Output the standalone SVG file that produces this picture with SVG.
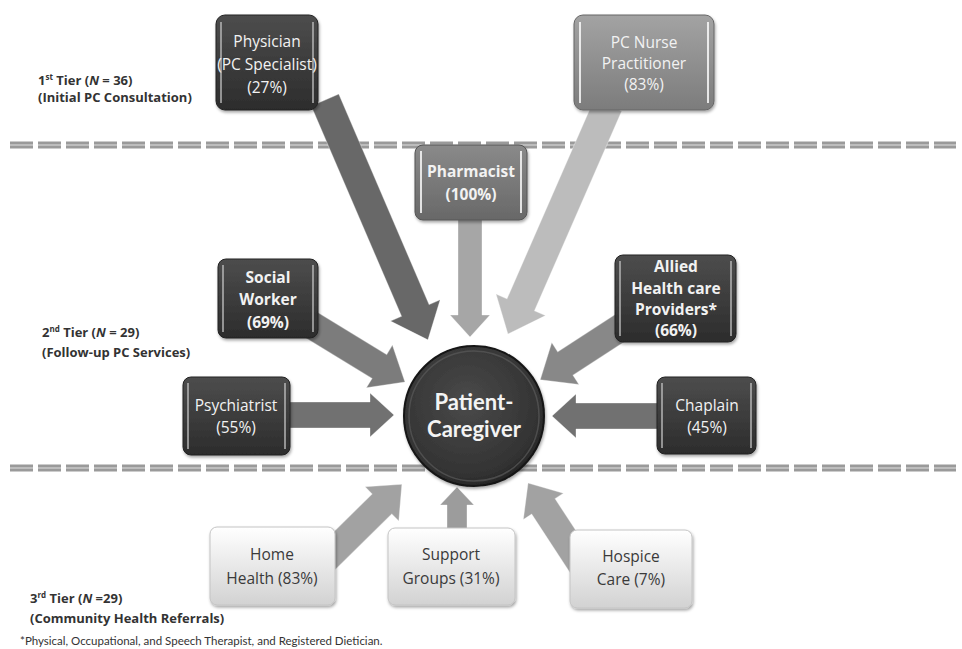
<svg xmlns="http://www.w3.org/2000/svg" width="962" height="649" viewBox="0 0 962 649">
<defs>
<linearGradient id="gDark" x1="0" y1="0" x2="0" y2="1"><stop offset="0" stop-color="#4d4d4d"/><stop offset="1" stop-color="#2c2c2c"/></linearGradient>
<linearGradient id="gNurse" x1="0" y1="0" x2="0" y2="1"><stop offset="0" stop-color="#a3a3a3"/><stop offset="1" stop-color="#7c7c7c"/></linearGradient>
<linearGradient id="gPharm" x1="0" y1="0" x2="0" y2="1"><stop offset="0" stop-color="#8a8a8a"/><stop offset="1" stop-color="#686868"/></linearGradient>
<linearGradient id="gLight" x1="0" y1="0" x2="0" y2="1"><stop offset="0" stop-color="#ffffff"/><stop offset="1" stop-color="#d2d2d2"/></linearGradient>
<radialGradient id="gCircle" cx="0.45" cy="0.4" r="0.65"><stop offset="0" stop-color="#4a4a4a"/><stop offset="0.8" stop-color="#333333"/><stop offset="1" stop-color="#1f1f1f"/></radialGradient>
<filter id="sh" x="-10%" y="-10%" width="125%" height="125%"><feDropShadow dx="1" dy="2" stdDeviation="1.5" flood-color="#000" flood-opacity="0.35"/></filter>
</defs>
<style>
.dash{fill:none;stroke:#9a9a9a;stroke-width:7;stroke-dasharray:23 5}
.dashc{fill:none;stroke:#c9c9c9;stroke-width:1.5;stroke-dasharray:23 5}
.box{stroke:#222;stroke-width:1;filter:url(#sh)}
.dk{fill:url(#gDark)}
.nu{fill:url(#gNurse);stroke:#666}
.ph{fill:url(#gPharm);stroke:#555}
.lt{fill:url(#gLight);stroke:#c4c4c4}
.hl{stroke:#bdbdbd;stroke-width:2;opacity:0.7}
.hll{stroke:#ffffff;stroke-width:2;opacity:0.8}
.t{font-family:"Open Sans",Lato,"Liberation Sans",sans-serif;font-size:15.5px;text-anchor:middle;fill:#f2f2f2}
.b{font-weight:bold}
.tl{fill:#3a3a3a}
.c{font-family:Lato,"Open Sans","Liberation Sans",sans-serif;font-size:22px;font-weight:bold;text-anchor:middle;fill:#f4f4f4}
.tier{font-family:"Open Sans",Lato,"Liberation Sans",sans-serif;font-size:13px;font-weight:bold;fill:#333}
.foot{font-family:Lato,"Open Sans","Liberation Sans",sans-serif;font-size:11.5px;fill:#333}
.arr{stroke:#ffffff;stroke-opacity:0.35;stroke-width:1}
</style>

<g id="tier-lines">
<line class="dash" x1="10" y1="145" x2="956" y2="145"/>
<line class="dashc" x1="10" y1="145" x2="956" y2="145"/>
<line class="dash" x1="10" y1="468" x2="956" y2="468"/>
<line class="dashc" x1="10" y1="468" x2="956" y2="468"/>
</g>

<g id="connectors">
<polygon class="arr" fill="#686868" transform="translate(325,100) rotate(66.77)" points="0,-15 229,-15 229,-27 261,0 229,27 229,15 0,15"/>
<polygon class="arr" fill="#a6a6a6" transform="translate(470,215) rotate(90)" points="0,-12 100,-12 100,-20 122,0 100,20 100,12 0,12"/>
<polygon class="arr" fill="#bcbcbc" transform="translate(608,105) rotate(113.6)" points="0,-15 218,-15 218,-27 250,0 218,27 218,15 0,15"/>
<polygon class="arr" fill="#7c7c7c" transform="translate(300,318) rotate(31.4)" points="0,-14 93,-14 93,-25 123,0 93,25 93,14 0,14"/>
<polygon class="arr" fill="#888888" transform="translate(640,315) rotate(147)" points="0,-14 89,-14 89,-25 119,0 89,25 89,14 0,14"/>
<polygon class="arr" fill="#717171" transform="translate(280,415)" points="0,-13 90,-13 90,-22 114,0 90,22 90,13 0,13"/>
<polygon class="arr" fill="#717171" transform="translate(665,416) rotate(180)" points="0,-13 89,-13 89,-22 113,0 89,22 89,13 0,13"/>
<polygon class="arr" fill="#a2a2a2" transform="translate(320,565) rotate(-44.6)" points="0,-14 87,-14 87,-24 115,0 87,24 87,14 0,14"/>
<polygon class="arr" fill="#9c9c9c" transform="translate(457,530) rotate(-90)" points="0,-10 25,-10 25,-17 43,0 25,17 25,10 0,10"/>
<polygon class="arr" fill="#a2a2a2" transform="translate(585,570) rotate(-123.2)" points="0,-14 76,-14 76,-24 104,0 76,24 76,14 0,14"/>
</g>

<g id="physician">
<rect class="box dk" x="216" y="15" width="102" height="95" rx="9"/>
<line class="hl" x1="221" y1="22" x2="221" y2="103"/><line class="hl" x1="313" y1="22" x2="313" y2="103"/>
<text class="t" x="267" y="47">Physician</text>
<text class="t" x="267" y="70">(PC Specialist)</text>
<text class="t" x="267" y="93">(27%)</text>
</g>

<g id="nurse">
<rect class="box nu" x="574" y="15" width="140" height="95" rx="9"/>
<line class="hll" x1="580" y1="22" x2="580" y2="103"/><line class="hll" x1="708" y1="22" x2="708" y2="103"/>
<text class="t" x="644" y="48">PC Nurse</text>
<text class="t" x="644" y="69">Practitioner</text>
<text class="t" x="644" y="90">(83%)</text>
</g>

<g id="pharmacist">
<rect class="box ph" x="415" y="145" width="112" height="75" rx="8"/>
<line class="hll" x1="421" y1="151" x2="421" y2="213"/><line class="hll" x1="521" y1="151" x2="521" y2="213"/>
<text class="t b" x="471" y="177">Pharmacist</text>
<text class="t b" x="471" y="200">(100%)</text>
</g>

<g id="social-worker">
<rect class="box dk" x="218" y="259" width="100" height="79" rx="8"/>
<line class="hl" x1="223" y1="265" x2="223" y2="332"/><line class="hl" x1="313" y1="265" x2="313" y2="332"/>
<text class="t b" x="268" y="283">Social</text>
<text class="t b" x="268" y="305">Worker</text>
<text class="t b" x="268" y="328">(69%)</text>
</g>

<g id="allied">
<rect class="box dk" x="615" y="255" width="121" height="87" rx="8"/>
<line class="hl" x1="620" y1="261" x2="620" y2="336"/><line class="hl" x1="731" y1="261" x2="731" y2="336"/>
<text class="t b" x="676" y="272">Allied</text>
<text class="t b" x="676" y="294">Health care</text>
<text class="t b" x="676" y="315">Providers*</text>
<text class="t b" x="676" y="336">(66%)</text>
</g>

<g id="psychiatrist">
<rect class="box dk" x="183" y="377" width="107" height="78" rx="8"/>
<line class="hl" x1="188" y1="383" x2="188" y2="449"/><line class="hl" x1="285" y1="383" x2="285" y2="449"/>
<text class="t" x="236" y="411">Psychiatrist</text>
<text class="t" x="236" y="433">(55%)</text>
</g>

<g id="chaplain">
<rect class="box dk" x="657" y="377" width="99" height="77" rx="8"/>
<line class="hl" x1="662" y1="383" x2="662" y2="448"/><line class="hl" x1="751" y1="383" x2="751" y2="448"/>
<text class="t" x="707" y="411">Chaplain</text>
<text class="t" x="707" y="433">(45%)</text>
</g>

<g id="home-health">
<rect class="box lt" x="210" y="527" width="125" height="78" rx="7"/>
<text class="t tl" x="272" y="560">Home</text>
<text class="t tl" x="272" y="584">Health (83%)</text>
</g>

<g id="support-groups">
<rect class="box lt" x="388" y="528" width="127" height="77" rx="7"/>
<text class="t tl" x="451" y="560">Support</text>
<text class="t tl" x="451" y="584">Groups (31%)</text>
</g>

<g id="hospice">
<rect class="box lt" x="570" y="530" width="122" height="78" rx="7"/>
<text class="t tl" x="631" y="562">Hospice</text>
<text class="t tl" x="631" y="585">Care (7%)</text>
</g>

<g id="patient-caregiver">
<circle cx="474" cy="416" r="70" fill="url(#gCircle)" stroke="#151515" stroke-width="2" filter="url(#sh)"/>
<circle cx="474" cy="416" r="65" fill="none" stroke="#5a5a5a" stroke-width="1.5" opacity="0.7"/>
<text class="c" x="474" y="410">Patient-</text>
<text class="c" x="474" y="437">Caregiver</text>
</g>

<g id="tier-labels">
<text class="tier" x="38" y="85">1<tspan font-size="8" dy="-5">st</tspan><tspan dy="5"> Tier (</tspan><tspan font-style="italic">N</tspan> = 36)</text>
<text class="tier" x="38" y="102">(Initial PC Consultation)</text>
<text class="tier" x="42" y="337">2<tspan font-size="8" dy="-5">nd</tspan><tspan dy="5">  Tier (</tspan><tspan font-style="italic">N</tspan> = 29)</text>
<text class="tier" x="42" y="357">(Follow-up PC Services)</text>
<text class="tier" x="30" y="603">3<tspan font-size="8" dy="-5">rd</tspan><tspan dy="5"> Tier (</tspan><tspan font-style="italic">N</tspan> =29)</text>
<text class="tier" x="30" y="623">(Community Health Referrals)</text>
<text class="foot" x="20" y="645">*Physical, Occupational, and Speech Therapist, and Registered Dietician.</text>
</g>
</svg>
